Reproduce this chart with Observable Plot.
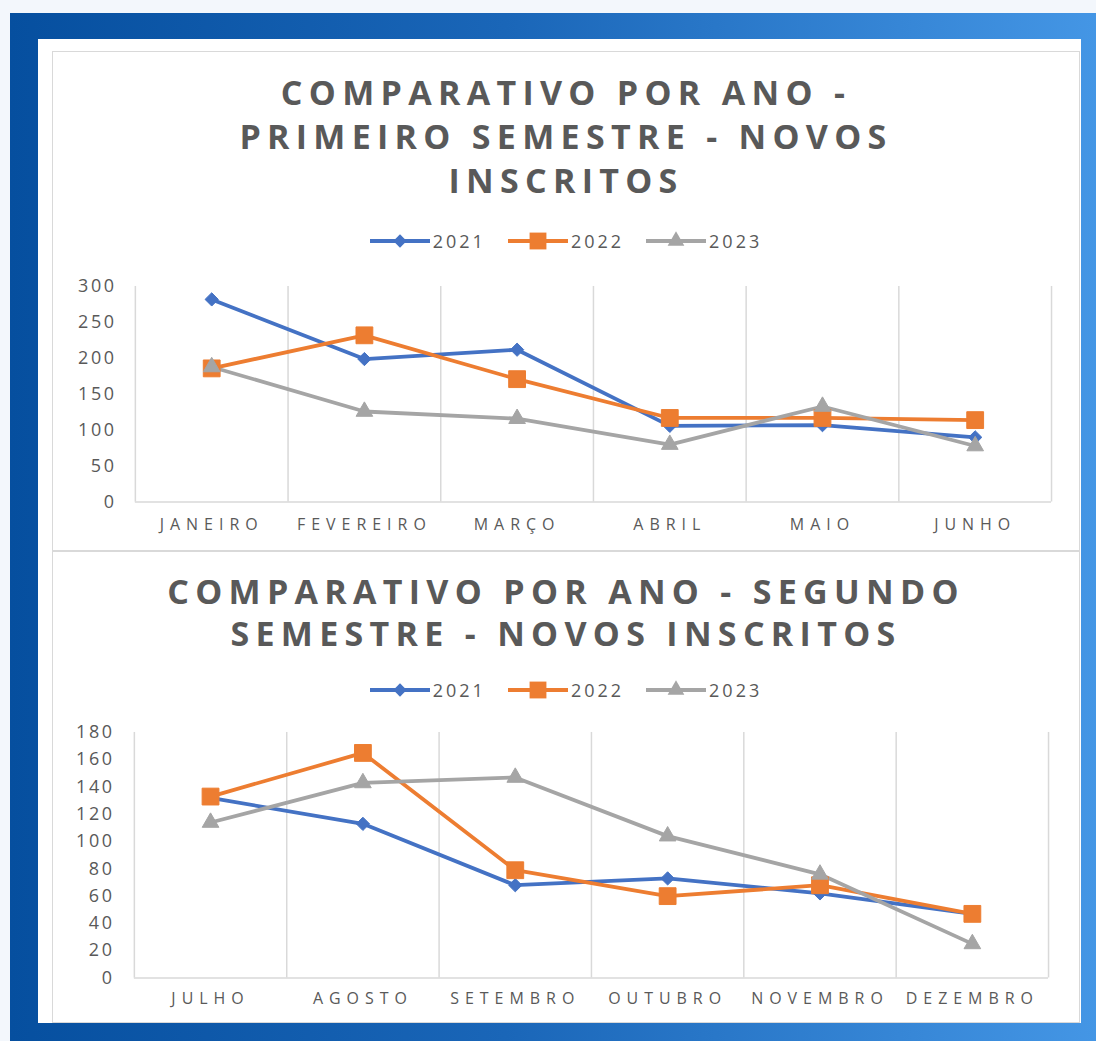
<!DOCTYPE html>
<html><head><meta charset="utf-8">
<script src="https://cdn.jsdelivr.net/npm/d3@7"></script>
<script src="https://cdn.jsdelivr.net/npm/@observablehq/plot@0.6"></script>
<style>
html,body{margin:0;padding:0;width:1096px;height:1041px;overflow:hidden;background:#f3f7fc;font-family:"Open Sans",sans-serif;}
#frame{position:absolute;left:10px;top:13px;width:1100px;height:1040px;background:linear-gradient(90deg,#064f9f 0%,#1a66b8 45%,#4597e6 100%);}
#inner{position:absolute;left:38px;top:39px;width:1043px;height:984px;background:#fff;}
.panel{position:absolute;left:52px;width:1028px;box-sizing:border-box;border:1.5px solid #d9d9d9;background:#fff;}
.title{position:absolute;left:0;width:100%;text-align:center;font-weight:700;color:#595959;font-size:34px;letter-spacing:6.3px;}
.legend{position:absolute;left:0;width:100%;display:flex;justify-content:center;align-items:center;gap:22px;color:#595959;font-size:18px;letter-spacing:3px;}
.legend .item{display:flex;align-items:center;gap:3px;}
.chart{position:absolute;left:0;}
g[aria-label="x-axis tick label"] text{letter-spacing:6px;}
g[aria-label="y-axis tick label"] text{letter-spacing:2.5px;}
</style>
</head><body>
<div id="frame"></div>
<div id="inner"></div>
<div class="panel" id="p1" style="top:51px;height:500px;">
  <div class="title" style="top:18px;line-height:44px;">COMPARATIVO POR ANO -<br>PRIMEIRO SEMESTRE - NOVOS<br>INSCRITOS</div>
  <div class="legend" id="leg1" style="top:176px;height:26px;"></div>
  <div class="chart" id="c1" style="top:218px;"></div>
</div>
<div class="panel" id="p2" style="top:551px;height:472px;">
  <div class="title" style="top:18px;line-height:42px;">COMPARATIVO POR ANO - SEGUNDO<br>SEMESTRE - NOVOS INSCRITOS</div>
  <div class="legend" id="leg2" style="top:125px;height:26px;"></div>
  <div class="chart" id="c2" style="top:163px;"></div>
</div>
<script>
// ---- data ----
const years = ["2021", "2022", "2023"];
const months1 = ["JANEIRO", "FEVEREIRO", "MARÇO", "ABRIL", "MAIO", "JUNHO"];
const months2 = ["JULHO", "AGOSTO", "SETEMBRO", "OUTUBRO", "NOVEMBRO", "DEZEMBRO"];
const sem1_2021 = [282, 199, 212, 106, 107, 90];
const sem1_2022 = [186, 232, 171, 117, 117, 114];
const sem1_2023 = [188, 126, 116, 80, 133, 78];
const sem2_2021 = [132, 113, 68, 73, 62, 47];
const sem2_2022 = [133, 165, 79, 60, 68, 47];
const sem2_2023 = [114, 143, 147, 104, 76, 25];
const yTicks1 = [0, 50, 100, 150, 200, 250, 300];
const yTicks2 = [0, 20, 40, 60, 80, 100, 120, 140, 160, 180];

// ---- styles ----
const colors = ["#4472C4", "#ED7D31", "#A5A5A5"];
const symbols = ["diamond2", "square", "triangle"];
const radii = [6, 9.5, 6.2];

function rowsOf(months, series) {
  const rows = [];
  series.forEach((vals, k) => vals.forEach((v, i) => rows.push({year: years[k], month: months[i], xi: i + 0.5, value: v})));
  return rows;
}

function chart(months, series, yTicks, dims) {
  const rows = rowsOf(months, series);
  const bounds = months.map((_, i) => i).concat([months.length]);
  const yMax = yTicks[yTicks.length - 1];
  return Plot.plot({
    width: dims.width, height: dims.height,
    marginLeft: dims.ml, marginRight: dims.mr, marginTop: dims.mt, marginBottom: dims.mb,
    style: {fontFamily: "Open Sans, sans-serif", fontSize: "15px", color: "#595959", background: "transparent", overflow: "visible"},
    x: {domain: [0, months.length], axis: null, label: null},
    y: {domain: [0, yMax], axis: null, label: null},
    color: {domain: years, range: colors},
    marks: [
      Plot.ruleX(bounds, {y1: 0, y2: yMax, stroke: "#d9d9d9", strokeWidth: 1.5}),
      Plot.ruleY([0], {x1: 0, x2: months.length, stroke: "#d9d9d9", strokeWidth: 1.5}),
      Plot.axisY({ticks: yTicks, label: null, tickSize: 0, tickPadding: dims.yPad, fontSize: 18, fill: "#595959"}),
      Plot.axisX({ticks: months.map((_, i) => i + 0.5), label: null, tickFormat: d => months[Math.floor(d)], tickSize: 0, tickPadding: dims.xPad, fontSize: 16, fill: "#595959"}),
      Plot.line(rows, {x: "xi", y: "value", z: "year", stroke: "year", strokeWidth: 3.8, strokeLinejoin: "round"}),
      ...years.map((yr, k) => Plot.dot(rows.filter(d => d.year === yr), {x: "xi", y: "value", symbol: () => symbols[k], fill: colors[k], stroke: colors[k], strokeWidth: 1, r: radii[k]}))
    ]
  });
}

function legend(el) {
  years.forEach((yr, k) => {
    const item = document.createElement("div");
    item.className = "item";
    const w = 60, h = 22;
    const svg = d3.create("svg").attr("width", w).attr("height", h);
    svg.append("line").attr("x1", 0).attr("x2", w).attr("y1", h / 2).attr("y2", h / 2).attr("stroke", colors[k]).attr("stroke-width", 3.8);
    const symMap = {diamond2: d3.symbolDiamond2, square: d3.symbolSquare, triangle: d3.symbolTriangle};
    svg.append("path").attr("transform", `translate(${w / 2},${h / 2})`)
      .attr("d", d3.symbol(symMap[symbols[k]], radii[k] * radii[k] * Math.PI)())
      .attr("fill", colors[k]);
    item.appendChild(svg.node());
    const t = document.createElement("span");
    t.textContent = yr;
    item.appendChild(t);
    el.appendChild(item);
  });
}

legend(document.getElementById("leg1"));
legend(document.getElementById("leg2"));

document.getElementById("c1").appendChild(chart(months1, [sem1_2021, sem1_2022, sem1_2023], yTicks1,
  {width: 1028, height: 282, ml: 82, mr: 28, mt: 16, mb: 50, yPad: 19, xPad: 17}));
document.getElementById("c2").appendChild(chart(months2, [sem2_2021, sem2_2022, sem2_2023], yTicks2,
  {width: 1028, height: 306, ml: 81, mr: 31, mt: 17, mb: 43, yPad: 20, xPad: 15}));
</script>
</body></html>
